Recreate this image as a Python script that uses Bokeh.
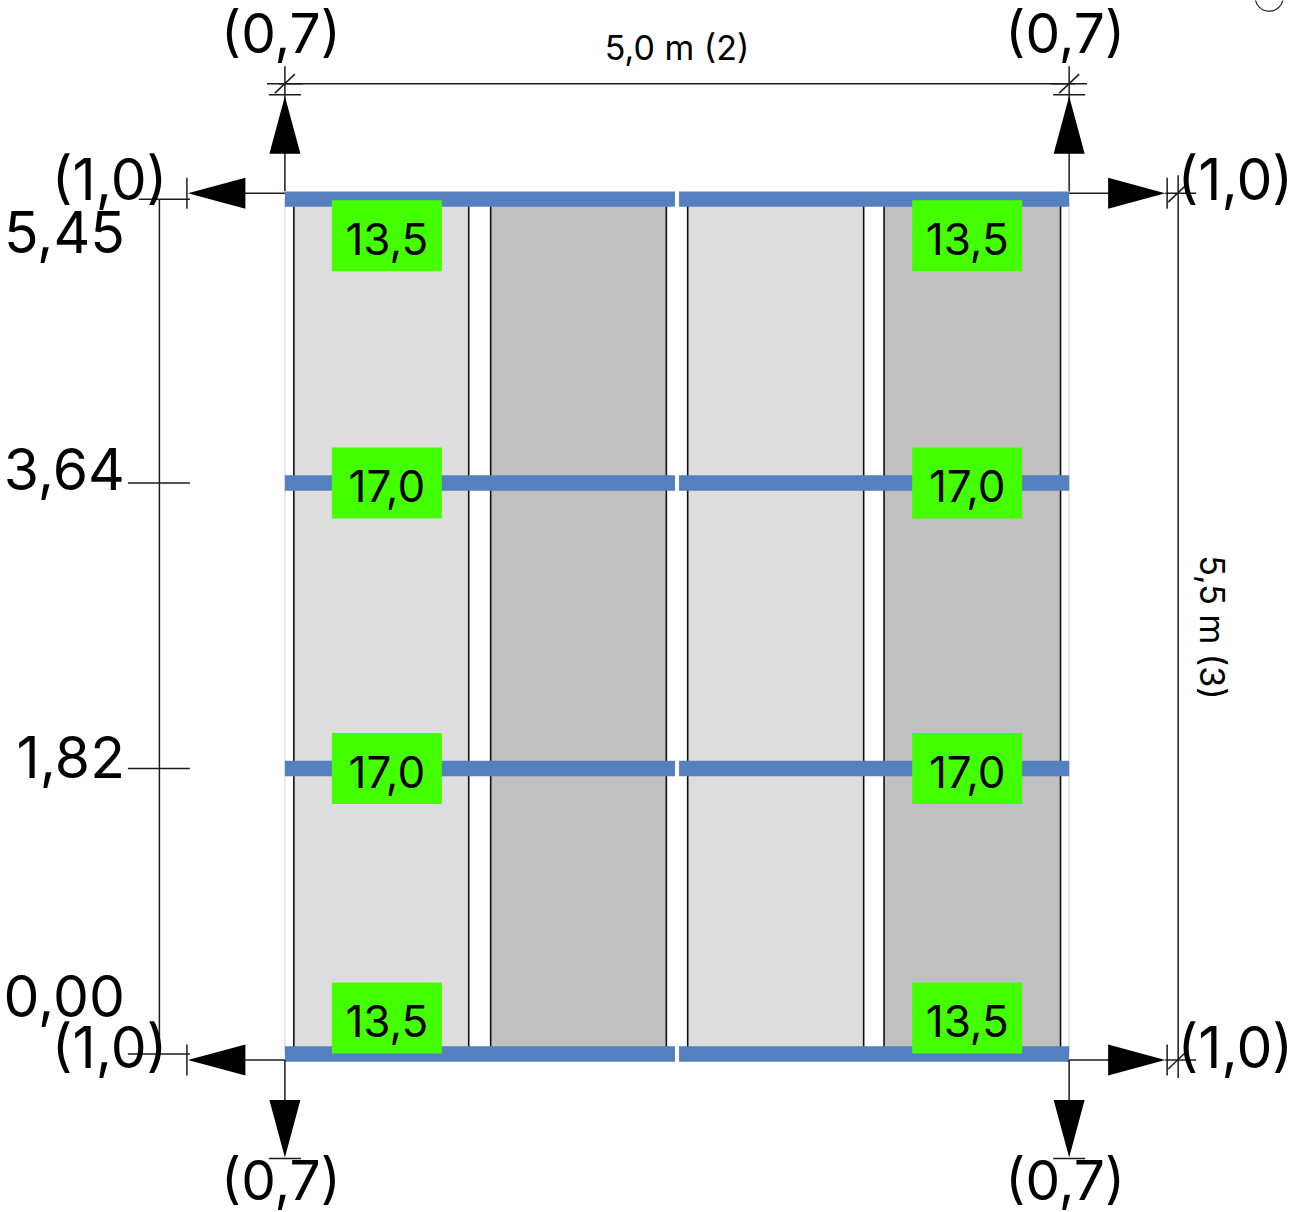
from bokeh.plotting import figure
from bokeh.models import Range1d
from bokeh.core.properties import value
from bokeh.embed import file_html
from bokeh.resources import INLINE
import math

# ---- data (metres / labels) ----
span_m = 5.0
height_m = 5.5
beam_levels = [0.00, 1.82, 3.64, 5.45]
level_labels = ["0,00", "1,82", "3,64", "5,45"]
beam_loads = ["13,5", "17,0", "17,0", "13,5"]
load_columns = [0.65, 4.35]
panel_left = [0.057, 1.312, 2.568, 3.82]
panel_right = [1.172, 2.432, 3.69, 4.945]
panel_colors = ["#dddddd", "#c0c0c0", "#dddddd", "#c0c0c0"]
beam_spans = [(0.0, 2.487), (2.513, 5.0)]
support_x = [0.0, 5.0]
top_reaction = "(0,7)"
side_reaction = "(1,0)"
span_label = "5,0 m (2)"
height_label = "5,5 m (3)"

S = 156.85
W, H = 1306, 1212
FONT = value("Inter")
INK = "#1c1c1c"
BASE_SHIFT = 0.38

p = figure(width=W, height=H, output_backend="svg", toolbar_location=None,
           x_range=Range1d(-284.4 / S, (W - 284.4) / S), y_range=Range1d(-(H - 1053.5) / S, 1053.5 / S),
           min_border=0, outline_line_color=None)
p.axis.visible = False
p.grid.visible = False

def X(base, d=0):
    return base + d / S

def Y(base, d=0):
    return base - d / S

Y_TOP, Y_BOT = beam_levels[-1], beam_levels[0]
X_L, X_R = support_x

# panels
p.quad(left=panel_left, right=panel_right, top=[Y(Y_TOP, -4)] * 4, bottom=[Y_BOT] * 4,
       fill_color=panel_colors, line_color=None)
p.segment(x0=panel_left + panel_right, x1=panel_left + panel_right,
          y0=[Y_BOT] * 8, y1=[Y_TOP] * 8, line_color="#111111", line_width=1.6)
p.segment(x0=support_x, x1=support_x, y0=[Y_BOT] * 2, y1=[Y_TOP] * 2,
          line_color="#e6e6e6", line_width=2)

# beams
for a, b in beam_spans:
    p.quad(left=[a] * 4, right=[b] * 4,
           top=[Y(v, -7.7) for v in beam_levels], bottom=[Y(v, 7.7) for v in beam_levels],
           fill_color="#5480bf", line_color=None)

# load boxes
box_shift = [-36, 0, 0, 36.5]
LOAD_SIZE = 44
for cx in load_columns:
    cys = [Y(v, d) for v, d in zip(beam_levels, box_shift)]
    p.rect(x=[cx] * 4, y=cys, width=110 / S, height=71 / S, fill_color="#44ff00", line_color=None)
    p.text(x=[cx] * 4, y=cys, text=beam_loads, text_font=FONT, text_font_size=f"{LOAD_SIZE}px",
           text_color="#000000", text_align="center", text_baseline="alphabetic",
           y_offset=[20 - BASE_SHIFT * LOAD_SIZE] * 4)

# ---- dimension work ----
xs, ys = [], []
def seg(x0, y0, x1, y1):
    xs.append([x0, x1])
    ys.append([y0, y1])

# top dimension line
y_dim = Y(Y_TOP, -115.5)
y_dim2 = Y(Y_TOP, -104.5)
seg(X(X_L, -6), y_dim, X(X_R, 6), y_dim)
for x in support_x:
    seg(X(x), Y(Y_TOP, -133), X(x), Y(Y_TOP, -8))
    seg(X(x, -16), y_dim2, X(x, 16), y_dim2)
    seg(X(x, -18), y_dim, X(x, 18), y_dim)
    seg(X(x, -10), Y(Y_TOP, -106), X(x, 10), Y(Y_TOP, -125))
    # bottom
    seg(X(x), Y(Y_BOT, 6), X(x), Y(Y_BOT, 48))
    seg(X(x, -16), Y(Y_BOT, 104.5), X(x, 16), Y(Y_BOT, 104.5))

# left dimension line
x_left = X(X_L, -125.5)
seg(x_left, Y(Y_TOP), x_left, Y(Y_BOT))
for v in beam_levels[1:3]:
    seg(X(X_L, -157), Y(v), X(X_L, -95), Y(v))
seg(X(X_L, -146), Y(Y_TOP), X(X_L, -95), Y(Y_TOP))
seg(X(X_L, -157), Y(Y_BOT), X(X_L, -95), Y(Y_BOT))

# right dimension line
x_right = X(X_R, 109)
seg(x_right, Y(Y_TOP, -24), x_right, Y(Y_BOT, 24))

for v, d in [(Y_TOP, -6), (Y_BOT, 6)]:
    yy = Y(v, d)
    seg(X(X_L, -40), yy, X(X_L), yy)
    seg(X(X_R), yy, X(X_R, 40), yy)
    seg(X(X_L, -98), Y(yy, -15.5), X(X_L, -98), Y(yy, 15.5))
    seg(X(X_R, 98), Y(yy, -15.5), X(X_R, 98), Y(yy, 15.5))
    seg(X(X_R, 96), yy, X(X_R, 127), yy)
    seg(X(X_R, 99), Y(yy, 9), X(X_R, 119), Y(yy, -10))

p.multi_line(xs=xs, ys=ys, line_color=INK, line_width=1.5)

# arrowheads
tx, ty = [], []
for x in support_x:
    tx.append([X(x), X(x, -15.5), X(x, 15.5)])
    ty.append([Y(Y_TOP, -103), Y(Y_TOP, -45.5), Y(Y_TOP, -45.5)])
    tx.append([X(x), X(x, -15.5), X(x, 15.5)])
    ty.append([Y(Y_BOT, 103.5), Y(Y_BOT, 46), Y(Y_BOT, 46)])
for v, d in [(Y_TOP, -6), (Y_BOT, 6)]:
    yy = Y(v, d)
    tx.append([X(X_L, -97), X(X_L, -39.5), X(X_L, -39.5)])
    ty.append([yy, Y(yy, -15.5), Y(yy, 15.5)])
    tx.append([X(X_R, 96), X(X_R, 39), X(X_R, 39)])
    ty.append([yy, Y(yy, -15.5), Y(yy, 15.5)])
p.patches(xs=tx, ys=ty, fill_color="#000000", line_color=None)

# small mark at top right
p.circle(x=[X(X_R, 200)], y=[Y(Y_TOP, -202)], radius=14 / S, fill_color=None,
         line_color=INK, line_width=1.2)

# ---- texts ----
BIG = 57
REACTION = 55
def big(x, y, t, align="center", size=BIG):
    p.text(x=[x], y=[y], text=[t], text_font=FONT, text_font_size=f"{size}px", text_color="#000000",
           text_align=align, text_baseline="alphabetic", y_offset=[-BASE_SHIFT * size])

for x in support_x:
    big(X(x, -4), Y(Y_TOP, -145), top_reaction, size=REACTION)
    big(X(x, -4), Y(Y_BOT, 147), top_reaction, size=REACTION)
for v, d in [(Y_TOP, 2), (Y_BOT, 15)]:
    big(X(X_L, -117.5), Y(v, d), side_reaction, "right")
    big(X(X_R, 224), Y(v, d), side_reaction, "right")

label_shift = [-36, 10, 8, 54]
for v, t, d in zip(beam_levels, level_labels, label_shift):
    big(X(X_L, -160), Y(v, d), t, "right")

DIM = 34
p.text(x=[span_m / 2], y=[Y(Y_TOP, -139)], text=[span_label], text_font=FONT,
       text_font_size=f"{DIM}px", text_color="#000000", text_align="center",
       text_baseline="alphabetic", y_offset=[-BASE_SHIFT * DIM])
p.text(x=[X(X_R, 130.5 + BASE_SHIFT * DIM)], y=[height_m / 2 - 0.03], text=[height_label], text_font=FONT,
       text_font_size=f"{DIM}px", text_color="#000000", text_align="center",
       text_baseline="alphabetic", angle=[-math.pi / 2])

open("out.html", "w").write(file_html(p, INLINE))
